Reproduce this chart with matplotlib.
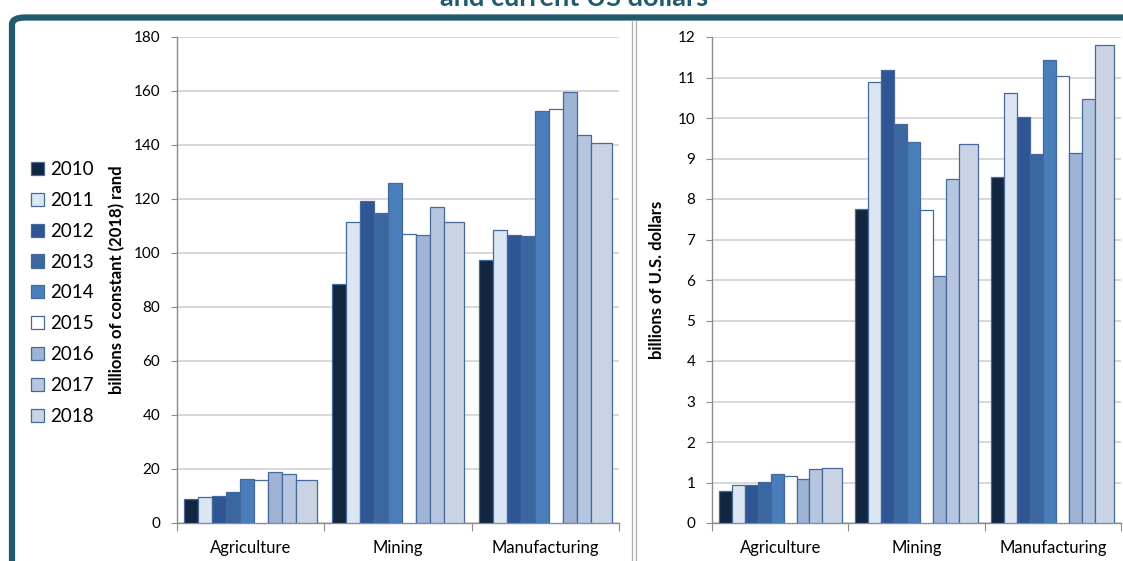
import matplotlib
matplotlib.use("Agg")
import matplotlib.pyplot as plt
from matplotlib.patches import FancyBboxPatch, Patch
from matplotlib.lines import Line2D
import numpy as np

# --- Data ---
sectors = ["Agriculture", "Mining", "Manufacturing"]
years = ["2010", "2011", "2012", "2013", "2014", "2015", "2016", "2017", "2018"]

# billions of constant (2018) rand, one list per year: [Agriculture, Mining, Manufacturing]
rand_2010 = [8.9, 88.4, 97.4]
rand_2011 = [9.5, 111.4, 108.6]
rand_2012 = [9.9, 119.3, 106.8]
rand_2013 = [11.6, 114.8, 106.2]
rand_2014 = [16.2, 125.8, 152.7]
rand_2015 = [15.8, 107.2, 153.2]
rand_2016 = [18.8, 106.7, 159.5]
rand_2017 = [18.1, 116.9, 143.7]
rand_2018 = [16.0, 111.6, 140.6]

# billions of current US dollars
usd_2010 = [0.80, 7.75, 8.54]
usd_2011 = [0.95, 10.88, 10.62]
usd_2012 = [0.94, 11.18, 10.02]
usd_2013 = [1.01, 9.85, 9.11]
usd_2014 = [1.21, 9.41, 11.43]
usd_2015 = [1.16, 7.72, 11.04]
usd_2016 = [1.09, 6.09, 9.13]
usd_2017 = [1.33, 8.50, 10.48]
usd_2018 = [1.36, 9.35, 11.80]

rand_series = [rand_2010, rand_2011, rand_2012, rand_2013, rand_2014,
               rand_2015, rand_2016, rand_2017, rand_2018]
usd_series = [usd_2010, usd_2011, usd_2012, usd_2013, usd_2014,
              usd_2015, usd_2016, usd_2017, usd_2018]

colors = ["#12263f", "#dce6f2", "#2e5594", "#3b67a1", "#4a7ebb",
          "#ffffff", "#9fb3d4", "#b7c6e0", "#c9d3e4"]
edge = "#46699b"
teal = "#215a6d"

plt.rcParams["font.family"] = ["Lato", "DejaVu Sans"]

fig = plt.figure(figsize=(11.23, 5.61), dpi=100)
fig.patch.set_facecolor("white")

# Frame round the panels
frame = FancyBboxPatch((12 / 1123, -0.2), 1.2, 1.2 - 17.5 / 561,
                       boxstyle="round,pad=0,rounding_size=0.012",
                       transform=fig.transFigure, facecolor="none",
                       edgecolor=teal, linewidth=4.5, zorder=-1)
fig.patches.append(frame)
for xp in (632, 636):
    fig.add_artist(Line2D([xp / 1123, xp / 1123], [0, 1 - 21 / 561],
                          transform=fig.transFigure, color="#b0b0b0", lw=1))

# Title (top part runs off the canvas)
fig.text(574 / 1123, 1 - 6 / 561, "and current US dollars", ha="center",
         va="baseline", fontsize=19.5, fontweight="bold", color=teal)

# bar layout inside each category: eight narrow bars then a wider last one
widths = np.array([0.095] * 8 + [0.14])
starts = -0.45 + np.concatenate([[0], np.cumsum(widths)[:-1]])


def draw_panel(ax, series, ymax, ystep, ylabel, label_x):
    x = np.arange(len(sectors))
    for j, vals in enumerate(series):
        ax.bar(x + starts[j], vals, width=widths[j], align="edge",
               color=colors[j], edgecolor=edge, linewidth=0.9, zorder=3,
               label=years[j])
    ax.set_xlim(-0.5, len(sectors) - 0.5)
    ax.set_ylim(0, ymax)
    ax.set_yticks(np.arange(0, ymax + ystep / 2, ystep))
    ax.yaxis.grid(True, color="#d6d6d6", linewidth=1.3, zorder=0)
    ax.set_axisbelow(True)

    ax.set_xticks(np.arange(-0.5, len(sectors)), labels=[""] * (len(sectors) + 1))
    ax.set_xticks(x, labels=sectors, minor=True)
    ax.tick_params(axis="x", which="major", length=6, color="#8c8c8c")
    ax.tick_params(axis="x", which="minor", length=0, pad=12, labelsize=12)
    ax.tick_params(axis="y", length=4, color="#8c8c8c", labelsize=11, pad=8)

    for side in ("top", "right"):
        ax.spines[side].set_visible(False)
    for side in ("left", "bottom"):
        ax.spines[side].set_color("#8c8c8c")
        ax.spines[side].set_linewidth(1)

    ax.set_ylabel(ylabel, fontsize=12, fontweight="bold")
    ax.yaxis.set_label_coords(label_x, 0.5)


ax1 = fig.add_axes([177 / 1123, 1 - 523 / 561, 442 / 1123, 486 / 561])
draw_panel(ax1, rand_series, 180, 20, "billions of constant (2018) rand", -0.118)

ax2 = fig.add_axes([712 / 1123, 1 - 523 / 561, 409 / 1123, 486 / 561])
draw_panel(ax2, usd_series, 12, 1, "billions of U.S. dollars", -0.116)

# Legend on the far left
handles = [Patch(facecolor=c, edgecolor=edge, linewidth=0.9) for c in colors]
fig.legend(handles, years, loc="upper left",
           bbox_to_anchor=(14 / 1123, 1 - 144 / 561), frameon=False,
           fontsize=13.5, handlelength=0.7, handleheight=0.7,
           handletextpad=0.35, labelspacing=0.74)

fig.savefig("out.png", dpi=100)
